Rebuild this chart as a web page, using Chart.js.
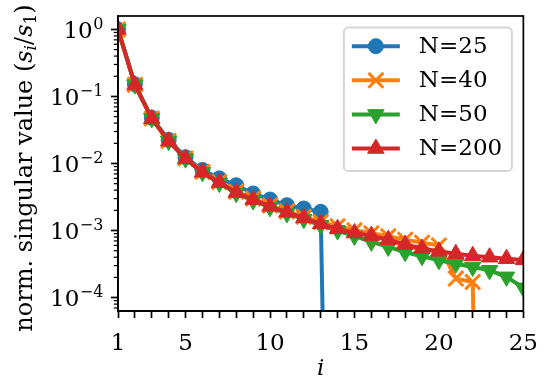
<!DOCTYPE html>
<html>
<head>
<meta charset="utf-8">
<script src="https://cdn.jsdelivr.net/npm/chart.js@4/dist/chart.umd.min.js"></script>
<style>
html,body{margin:0;padding:0;background:#ffffff;}
#wrap{width:550px;height:383px;position:relative;}
</style>
</head>
<body>
<div id="wrap"><canvas id="c" width="550" height="383"></canvas></div>
<script>
// ---------------- data ----------------
const indices = [1,2,3,4,5,6,7,8,9,10,11,12,13,14,15,16,17,18,19,20,21,22,23,24,25];
const seriesNames = ['N=25', 'N=40', 'N=50', 'N=200'];
const n25 = [1.0, 0.152, 0.0480, 0.0225, 0.0124, 0.0080, 0.0060, 0.00474, 0.00357, 0.00290, 0.00239, 0.00213, 0.00190, 1e-16];
const n40 = [1.0, 0.149, 0.0468, 0.0216, 0.0119, 0.0075, 0.0053, 0.0038, 0.0030, 0.00236, 0.00193, 0.00160, 0.00134,
             0.00116, 0.00101, 0.00091, 0.00082, 0.00073, 0.00066, 0.00060, 0.000192, 0.000171, 1e-16];
const n50 = [1.0, 0.150, 0.0470, 0.0216, 0.0118, 0.0074, 0.0051, 0.0036, 0.0028, 0.00222, 0.00180, 0.00148, 0.00120,
             0.00100, 0.00083, 0.00068, 0.00057, 0.000475, 0.000413, 0.00036, 0.00032, 0.000286, 0.000255, 0.000204, 0.00014];
const n200 = [1.0, 0.148, 0.0465, 0.0215, 0.0118, 0.0074, 0.0052, 0.0037, 0.0029, 0.0023, 0.00188, 0.00155, 0.00126,
              0.00106, 0.00092, 0.00084, 0.00073, 0.00062, 0.00054, 0.00049, 0.00045, 0.00042, 0.00040, 0.00038, 0.000365];
const xTickLabels = [1, 5, 10, 15, 20, 25];
const yTickValues = [1, 0.1, 0.01, 0.001, 0.0001];
const yTickBase = '10';
const yTickExponents = ['0', '\u22121', '\u22122', '\u22123', '\u22124'];
const xTitle = 'i';
const yTitleMain = 'norm. singular value (';
const yTitleMath = [['s', 'it'], ['i', 'subit'], ['/', 'rm'], ['s', 'it'], ['1', 'sub'], [')', 'rm']];

// ---------------- style ----------------
const FONT = '"DejaVu Serif", serif';
const FS = 23;
const TFS = 24;
const colors = ['#1f77b4', '#ff7f0e', '#2ca02c', '#d62728'];
const styles = [
  {pointStyle: 'circle', pointRadius: 7.5, pointBorderWidth: 1, rotation: 0},
  {pointStyle: 'crossRot', pointRadius: 10.5, pointBorderWidth: 3, rotation: 0},
  {pointStyle: 'triangle', pointRadius: 9.5, pointBorderWidth: 1, rotation: 180},
  {pointStyle: 'triangle', pointRadius: 9.5, pointBorderWidth: 1, rotation: 0}
];
const allSeries = [n25, n40, n50, n200];

const datasets = allSeries.map((arr, k) => ({
  label: seriesNames[k],
  data: arr.map((v, j) => ({x: indices[j], y: v})),
  borderColor: colors[k],
  backgroundColor: colors[k],
  borderWidth: 4,
  pointStyle: styles[k].pointStyle,
  pointRadius: styles[k].pointRadius,
  pointRotation: styles[k].rotation,
  pointBorderWidth: styles[k].pointBorderWidth,
  pointBackgroundColor: colors[k],
  pointBorderColor: colors[k],
  pointHoverRadius: styles[k].pointRadius,
  tension: 0,
  fill: false,
  clip: 0,
  order: 4 - k
}));

const decor = {
  id: 'mplDecor',
  afterDatasetsDraw(chart) {
    const {ctx, chartArea: a, scales} = chart;
    const ys = scales.y;
    ctx.save();
    // minor y ticks
    ctx.strokeStyle = '#000';
    ctx.lineWidth = 1.25;
    const lo = Math.floor(Math.log10(ys.min)), hi = Math.ceil(Math.log10(ys.max));
    for (let e = lo; e <= hi; e++) {
      for (let m = 2; m <= 9; m++) {
        const v = m * Math.pow(10, e);
        if (v < ys.min || v > ys.max) continue;
        const p = ys.getPixelForValue(v);
        ctx.beginPath(); ctx.moveTo(a.left - 4.2, p); ctx.lineTo(a.left, p); ctx.stroke();
      }
    }
    // frame
    ctx.lineWidth = 1.7;
    ctx.strokeRect(a.left, a.top, a.right - a.left, a.bottom - a.top);

    // y tick labels (10 with superscript exponent)
    ctx.fillStyle = '#000';
    ctx.textBaseline = 'alphabetic';
    ctx.textAlign = 'right';
    const rightEdge = a.left - 14.6;
    yTickValues.forEach((v, k) => {
      const p = ys.getPixelForValue(v);
      ctx.font = Math.round(FS * 0.7) + 'px ' + FONT;
      const ew = ctx.measureText(yTickExponents[k]).width;
      ctx.fillText(yTickExponents[k], rightEdge, p + 8.4 - 8.5);
      ctx.font = FS + 'px ' + FONT;
      ctx.fillText(yTickBase, rightEdge - ew - 0.5, p + 8.4);
    });

    // y title
    const cy = (a.top + a.bottom) / 2 + 4.5;
    const fonts = {
      rm: TFS + 'px ' + FONT, it: 'italic ' + TFS + 'px ' + FONT,
      sub: Math.round(TFS * 0.7) + 'px ' + FONT, subit: 'italic ' + Math.round(TFS * 0.7) + 'px ' + FONT
    };
    const parts = [[yTitleMain, 'rm']].concat(yTitleMath);
    let W = 0;
    parts.forEach(p => { ctx.font = fonts[p[1]]; W += ctx.measureText(p[0]).width; });
    ctx.translate(31.5, cy);
    ctx.rotate(-Math.PI / 2);
    ctx.textBaseline = 'alphabetic';
    ctx.textAlign = 'left';
    let x = -W / 2;
    parts.forEach(p => {
      ctx.font = fonts[p[1]];
      const dy = (p[1] === 'sub' || p[1] === 'subit') ? 4.7 : 0;
      ctx.fillText(p[0], x, dy);
      x += ctx.measureText(p[0]).width;
    });
    ctx.setTransform(1, 0, 0, 1, 0, 0);

    // legend
    const em = FS;
    const bw = 168, rowH = 34.1;
    const bh = 143.5;
    const bx = a.right - 0.5 * em - bw, by = a.top + 0.5 * em;
    const r = 0.2 * em;
    ctx.beginPath();
    ctx.moveTo(bx + r, by);
    ctx.arcTo(bx + bw, by, bx + bw, by + bh, r);
    ctx.arcTo(bx + bw, by + bh, bx, by + bh, r);
    ctx.arcTo(bx, by + bh, bx, by, r);
    ctx.arcTo(bx, by, bx + bw, by, r);
    ctx.closePath();
    ctx.fillStyle = 'rgba(255,255,255,0.8)';
    ctx.fill();
    ctx.strokeStyle = 'rgba(204,204,204,0.8)';
    ctx.lineWidth = 2;
    ctx.stroke();
    chart.data.datasets.forEach((ds, k) => {
      const ry = by + 18.7 + k * rowH;
      const hx0 = bx + 8, hx1 = bx + 56;
      ctx.strokeStyle = ds.borderColor;
      ctx.lineWidth = ds.borderWidth;
      ctx.beginPath(); ctx.moveTo(hx0, ry); ctx.lineTo(hx1, ry); ctx.stroke();
      ctx.fillStyle = ds.backgroundColor;
      ctx.lineWidth = ds.pointBorderWidth;
      Chart.helpers.drawPoint(ctx, {pointStyle: ds.pointStyle, rotation: ds.pointRotation, radius: ds.pointRadius, borderWidth: ds.pointBorderWidth}, (hx0 + hx1) / 2, ry);
      ctx.fillStyle = '#000';
      ctx.font = FS + 'px ' + FONT;
      ctx.textBaseline = 'middle';
      ctx.textAlign = 'left';
      ctx.fillText(ds.label, bx + 75, ry + 1);
    });
    ctx.restore();
  }
};

new Chart(document.getElementById('c'), {
  type: 'line',
  data: {datasets},
  options: {
    responsive: false,
    devicePixelRatio: 1,
    animation: false,
    events: [],
    layout: {padding: {top: 16, right: 24, left: 0, bottom: 0}},
    plugins: {legend: {display: false}, tooltip: {enabled: false}},
    scales: {
      x: {
        type: 'linear',
        min: indices[0],
        max: indices[indices.length - 1],
        afterBuildTicks: s => { s.ticks = indices.map(v => ({value: v})); },
        afterFit: s => { s.height = 72; },
        ticks: {
          autoSkip: false, maxRotation: 0, padding: 12, color: '#000',
          font: {family: FONT, size: FS},
          callback: v => xTickLabels.includes(v) ? String(v) : ''
        },
        grid: {drawOnChartArea: false, drawTicks: true, tickLength: 7, tickWidth: 1.7, tickColor: '#000'},
        border: {display: true, color: '#000', width: 1.7},
        title: {display: true, text: xTitle, color: '#000', padding: {top: 0, bottom: 0},
                font: {family: FONT, size: FS, style: 'italic'}}
      },
      y: {
        type: 'logarithmic',
        min: Math.pow(10, -4.2),
        max: Math.pow(10, 0.2),
        afterBuildTicks: s => { s.ticks = yTickValues.map(v => ({value: v, major: true})); },
        afterFit: s => { s.width = 118; },
        ticks: {display: false},
        grid: {drawOnChartArea: false, drawTicks: true, tickLength: 7, tickWidth: 1.7, tickColor: '#000'},
        border: {display: true, color: '#000', width: 1.7}
      }
    }
  },
  plugins: [decor]
});
</script>
</body>
</html>
